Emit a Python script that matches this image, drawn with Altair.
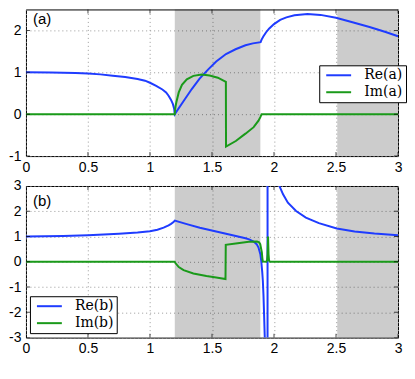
import altair as alt
import pandas as pd

# ---------------- data ----------------
x_ticks = [0, 0.5, 1, 1.5, 2, 2.5, 3]
ya_ticks = [-1, 0, 1, 2]
yb_ticks = [-3, -2, -1, 0, 1, 2, 3]
band_start = [1.2, 2.51]
band_end = [1.89, 3.0]

re_a_x = [0, 0.2, 0.4, 0.5, 0.6, 0.7, 0.8, 0.9, 0.96, 1.0, 1.05, 1.1, 1.13, 1.15, 1.17, 1.185, 1.195, 1.2,
          1.27, 1.337, 1.40, 1.47, 1.534, 1.613, 1.69, 1.77, 1.83, 1.892,
          1.9, 1.915, 1.935, 1.96, 2.0, 2.05, 2.1, 2.165, 2.27, 2.375, 2.5, 2.64, 2.77, 2.9, 3.0]
re_a_y = [1.0, 0.995, 0.98, 0.97, 0.95, 0.92, 0.885, 0.84, 0.80, 0.75, 0.675, 0.59, 0.52, 0.44, 0.34, 0.24, 0.13, 0.0,
          0.31, 0.60, 0.85, 1.07, 1.256, 1.435, 1.55, 1.644, 1.69, 1.72,
          1.78, 1.86, 1.95, 2.04, 2.15, 2.25, 2.31, 2.36, 2.39, 2.37, 2.30, 2.19, 2.08, 1.96, 1.86]

im_a_x = [0, 1.2, 1.202, 1.206, 1.213, 1.232, 1.258, 1.297, 1.35, 1.416, 1.481, 1.547, 1.612,
          1.613, 1.692, 1.77, 1.836, 1.875, 1.89, 1.9, 3.0]
im_a_y = [0, 0, 0.1, 0.18, 0.29, 0.52, 0.70, 0.83, 0.915, 0.946, 0.923, 0.87, 0.77,
          -0.775, -0.64, -0.465, -0.31, -0.155, -0.07, 0, 0]

re_b_x = [0, 0.3, 0.5, 0.75, 0.9, 1.0, 1.06, 1.11, 1.15, 1.17, 1.19, 1.2,
          1.297, 1.402, 1.534, 1.666, 1.77, 1.80, 1.836, 1.86, 1.875, 1.89, 1.897, 1.905, 1.91, 1.915,
          1.92, 1.925, 1.93, 1.938, 1.944, 1.947,
          1.949, 1.952, 1.96, 1.98, 2.0, 2.02, 2.047, 2.073, 2.112, 2.178, 2.257, 2.362, 2.506, 2.65, 2.81, 3.0]
re_b_y = [1.0, 1.02, 1.05, 1.11, 1.16, 1.21, 1.27, 1.35, 1.44, 1.5, 1.57, 1.63,
          1.49, 1.35, 1.20, 1.05, 0.935, 0.89, 0.80, 0.70, 0.565, 0.30, 0.04, -0.4, -0.75, -1.3,
          -2.07, -2.9, -3.8, -6, -15, -60,
          60, 25, 12, 6, 4.4, 3.6, 2.96, 2.67, 2.34, 2.01, 1.75, 1.53, 1.32, 1.20, 1.12, 1.05]

im_b_x = [0, 1.2, 1.205, 1.232, 1.271, 1.35, 1.455, 1.534, 1.609,
          1.611, 1.692, 1.797, 1.863, 1.88, 1.889, 1.902, 1.906, 1.91, 1.938,
          1.944, 1.948, 1.952, 1.956, 1.96, 1.968, 3.0]
im_b_y = [0, 0, -0.05, -0.21, -0.33, -0.46, -0.565, -0.62, -0.68,
          0.67, 0.72, 0.79, 0.80, 0.77, 0.70, 0.37, 0.15, 0.01, 0,
          0.05, 0.3, 1.0, 0.3, 0.05, 0, 0]

BLUE = "#1f3cff"
GREEN = "#1a9a1a"
W = 373
HA = 147
HB = 152
FONT = "Liberation Sans"


def panel(series, ydom, yticks, H, tag, tag_y, lx, ly):
    rows = []
    for name, xs, ys in series:
        for i, (u, v) in enumerate(zip(xs, ys)):
            rows.append({"series": name, "i": i, "x": u, "y": v})
    df = pd.DataFrame(rows)
    names = [s[0] for s in series]

    xscale = alt.Scale(domain=[0, 3], nice=False, zero=False)
    yscale = alt.Scale(domain=ydom, nice=False, zero=False)
    xaxis = alt.Axis(values=x_ticks, title=None, grid=True, ticks=False, domain=False,
                     labelExpr="'' + datum.value", labelFlush=False, labelOverlap=False,
                     labelPadding=4, labelFontSize=14, labelFont=FONT, labelColor="black",
                     gridColor="#999999", gridDash=[1, 3])
    yaxis = alt.Axis(values=yticks, title=None, grid=True, ticks=False, domain=False,
                     labelExpr="'' + datum.value", labelFlush=False, labelOverlap=False,
                     labelPadding=5, labelFontSize=14, labelFont=FONT, labelColor="black",
                     gridColor="#999999", gridDash=[1, 3], minExtent=17.5, maxExtent=17.5)

    bands = pd.DataFrame({"x0": band_start, "x1": band_end})
    rect = alt.Chart(bands).mark_rect(color="black", opacity=0.2).encode(
        x=alt.X("x0:Q", scale=xscale, axis=xaxis), x2="x1:Q",
        y=alt.value(0), y2=alt.value(H))

    legend = alt.Legend(title=None, orient="none", legendX=lx, legendY=ly,
                        symbolType="M-2.08,0L2.08,0", symbolSize=144, symbolStrokeWidth=2,
                        symbolOffset=9.5, labelOffset=18.6,
                        labelFont="DejaVu Serif", labelFontSize=14,
                        labelColor="black", fillColor="white",
                        strokeColor="black", padding=3, rowPadding=3,
                        cornerRadius=0)
    lines = alt.Chart(df).mark_line(strokeWidth=2, clip=True).encode(
        x=alt.X("x:Q", scale=xscale, axis=xaxis),
        y=alt.Y("y:Q", scale=yscale, axis=yaxis),
        order="i:Q",
        color=alt.Color("series:N", scale=alt.Scale(domain=names, range=[BLUE, GREEN]),
                        legend=legend))

    xt = pd.DataFrame({"t": x_ticks})
    yt = pd.DataFrame({"t": yticks})
    tk = dict(color="black", size=8, thickness=1, clip=True)
    xtb = alt.Chart(xt).mark_tick(orient="vertical", **tk).encode(
        x=alt.X("t:Q", scale=xscale, axis=xaxis), y=alt.value(H))
    xtt = alt.Chart(xt).mark_tick(orient="vertical", **tk).encode(
        x=alt.X("t:Q", scale=xscale, axis=xaxis), y=alt.value(0))
    ytl = alt.Chart(yt).mark_tick(orient="horizontal", **tk).encode(
        y=alt.Y("t:Q", scale=yscale, axis=yaxis), x=alt.value(0))
    ytr = alt.Chart(yt).mark_tick(orient="horizontal", **tk).encode(
        y=alt.Y("t:Q", scale=yscale, axis=yaxis), x=alt.value(W))

    txt = alt.Chart(pd.DataFrame({"t": [tag]})).mark_text(
        align="left", baseline="middle", fontSize=15, font=FONT, color="black").encode(
        text="t:N", x=alt.value(7), y=alt.value(tag_y))

    return alt.layer(rect, lines, xtb, xtt, ytl, ytr, txt).properties(width=W, height=H)


top = panel([("Re(a)", re_a_x, re_a_y), ("Im(a)", im_a_x, im_a_y)],
            [-1, 2.5], ya_ticks, HA, "(a)", 10, 294, 56)
bottom = panel([("Re(b)", re_b_x, re_b_y), ("Im(b)", im_b_x, im_b_y)],
               [-3, 3], yb_ticks, HB, "(b)", 15.5, 4, 110.5)

chart = alt.vconcat(top, bottom, spacing=30, bounds="flush").resolve_scale(
    color="independent").resolve_legend(color="independent").properties(
    padding={"left": 0, "top": 0, "right": 0, "bottom": 4}).configure_view(
    stroke="black", strokeWidth=1)

chart.save("out.html", embed_options={"renderer": "svg", "actions": False})
